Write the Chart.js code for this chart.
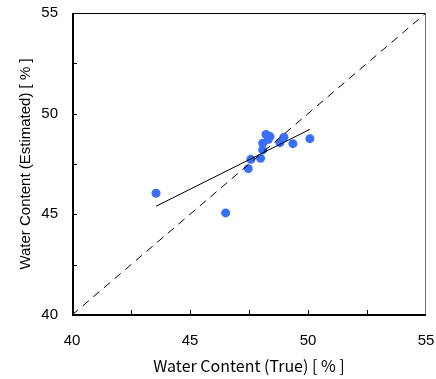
<!DOCTYPE html>
<html>
<head>
<meta charset="utf-8">
<script src="https://cdn.jsdelivr.net/npm/chart.js@4"></script>
<style>
  body { margin: 0; background: #fff; }
  #wrap { width: 436px; height: 379px; }
</style>
</head>
<body>
<div id="wrap"><canvas id="chart"></canvas></div>
<script>
const trueValues = [43.56, 46.51, 47.47, 47.58, 47.99, 48.08, 48.08, 48.22, 48.39, 48.32, 48.81, 48.98, 49.36, 50.08];
const estValues  = [46.05, 45.07, 47.27, 47.73, 47.78, 48.20, 48.53, 48.97, 48.86, 48.72, 48.56, 48.83, 48.51, 48.76];
const fitX = [43.56, 50.08];
const fitY = [45.40, 49.22];
const oneToOne = [40, 55];
const minorTicks = [42.5, 45, 47.5, 50, 52.5];

const points = trueValues.map((x, i) => ({ x: x, y: estValues[i] }));
const fitLine = fitX.map((x, i) => ({ x: x, y: fitY[i] }));
const idLine = oneToOne.map(v => ({ x: v, y: v }));

const frame = {
    id: "frame",
    afterDraw(chart) {
        const { ctx, chartArea: a, scales } = chart;
        ctx.save();
        ctx.strokeStyle = "#000";
        ctx.lineWidth = 1;
        ctx.beginPath();
        ctx.moveTo(a.left, a.top + 0.5);
        ctx.lineTo(a.right, a.top + 0.5);
        ctx.stroke();
        ctx.strokeStyle = "#777";
        ctx.beginPath();
        ctx.moveTo(a.right - 0.5, a.top);
        ctx.lineTo(a.right - 0.5, a.bottom);
        ctx.stroke();
        ctx.strokeStyle = "#000";
        ctx.lineWidth = 2;
        ctx.beginPath();
        ctx.moveTo(a.left + 1, a.top);
        ctx.lineTo(a.left + 1, a.bottom);
        ctx.lineTo(a.right, a.bottom);
        ctx.stroke();
        ctx.lineWidth = 1;
        ctx.beginPath();
        minorTicks.forEach(v => {
            const px = Math.round(scales.x.getPixelForValue(v)) + 0.5;
            ctx.moveTo(px, a.bottom);
            ctx.lineTo(px, a.bottom - 5);
            const py = Math.round(scales.y.getPixelForValue(v)) + 0.5;
            ctx.moveTo(a.left, py);
            ctx.lineTo(a.left + 5, py);
        });
        ctx.stroke();
        ctx.restore();
    }
};

new Chart(document.getElementById("chart"), {
    type: "scatter",
    data: {
        datasets: [
            {
                label: "1:1",
                type: "line",
                data: idLine,
                borderColor: "#000",
                borderWidth: 1,
                borderDash: [8, 6],
                pointRadius: 0,
                fill: false,
            },
            {
                label: "Fit",
                type: "line",
                data: fitLine,
                borderColor: "#000",
                borderWidth: 1,
                pointRadius: 0,
                fill: false,
            },
            {
                label: "Data",
                data: points,
                backgroundColor: "#3a6ff7",
                borderWidth: 0,
                pointRadius: 4.5,
            },
        ],
    },
    options: {
        responsive: true,
        maintainAspectRatio: false,
        animation: false,
        layout: { padding: { top: 13, right: 10, left: 0, bottom: 0 } },
        plugins: {
            legend: { display: false },
            tooltip: { enabled: false },
        },
        scales: {
            x: {
                type: "linear",
                min: 40,
                max: 55,
                grid: { display: false, drawTicks: false },
                border: { display: false },
                ticks: {
                    stepSize: 5,
                    padding: 17,
                    color: "#000",
                    font: { family: "Liberation Sans", size: 15 },
                    maxRotation: 0,
                },
                title: {
                    display: true,
                    text: "Water Content (True) [ % ]",
                    color: "#000",
                    font: { family: "Noto Sans CJK JP", size: 16 },
                    padding: { top: 0, bottom: 3 },
                },
                afterFit(s) {
                    s.height = 64;
                    s.paddingLeft = 0;
                    s.paddingRight = 0;
                },
            },
            y: {
                type: "linear",
                min: 40,
                max: 55,
                grid: { display: false, drawTicks: false },
                border: { display: false },
                ticks: {
                    stepSize: 5,
                    padding: 14,
                    color: "#000",
                    font: { family: "Liberation Sans", size: 15 },
                },
                title: {
                    display: true,
                    text: "Water Content (Estimated) [ % ]",
                    color: "#000",
                    font: { family: "Liberation Sans", size: 15 },
                    padding: { top: 17, bottom: 0 },
                },
                afterFit(s) {
                    s.width = 72;
                    s.paddingTop = 0;
                    s.paddingBottom = 0;
                },
            },
        },
    },
    plugins: [frame],
});
</script>
</body>
</html>
